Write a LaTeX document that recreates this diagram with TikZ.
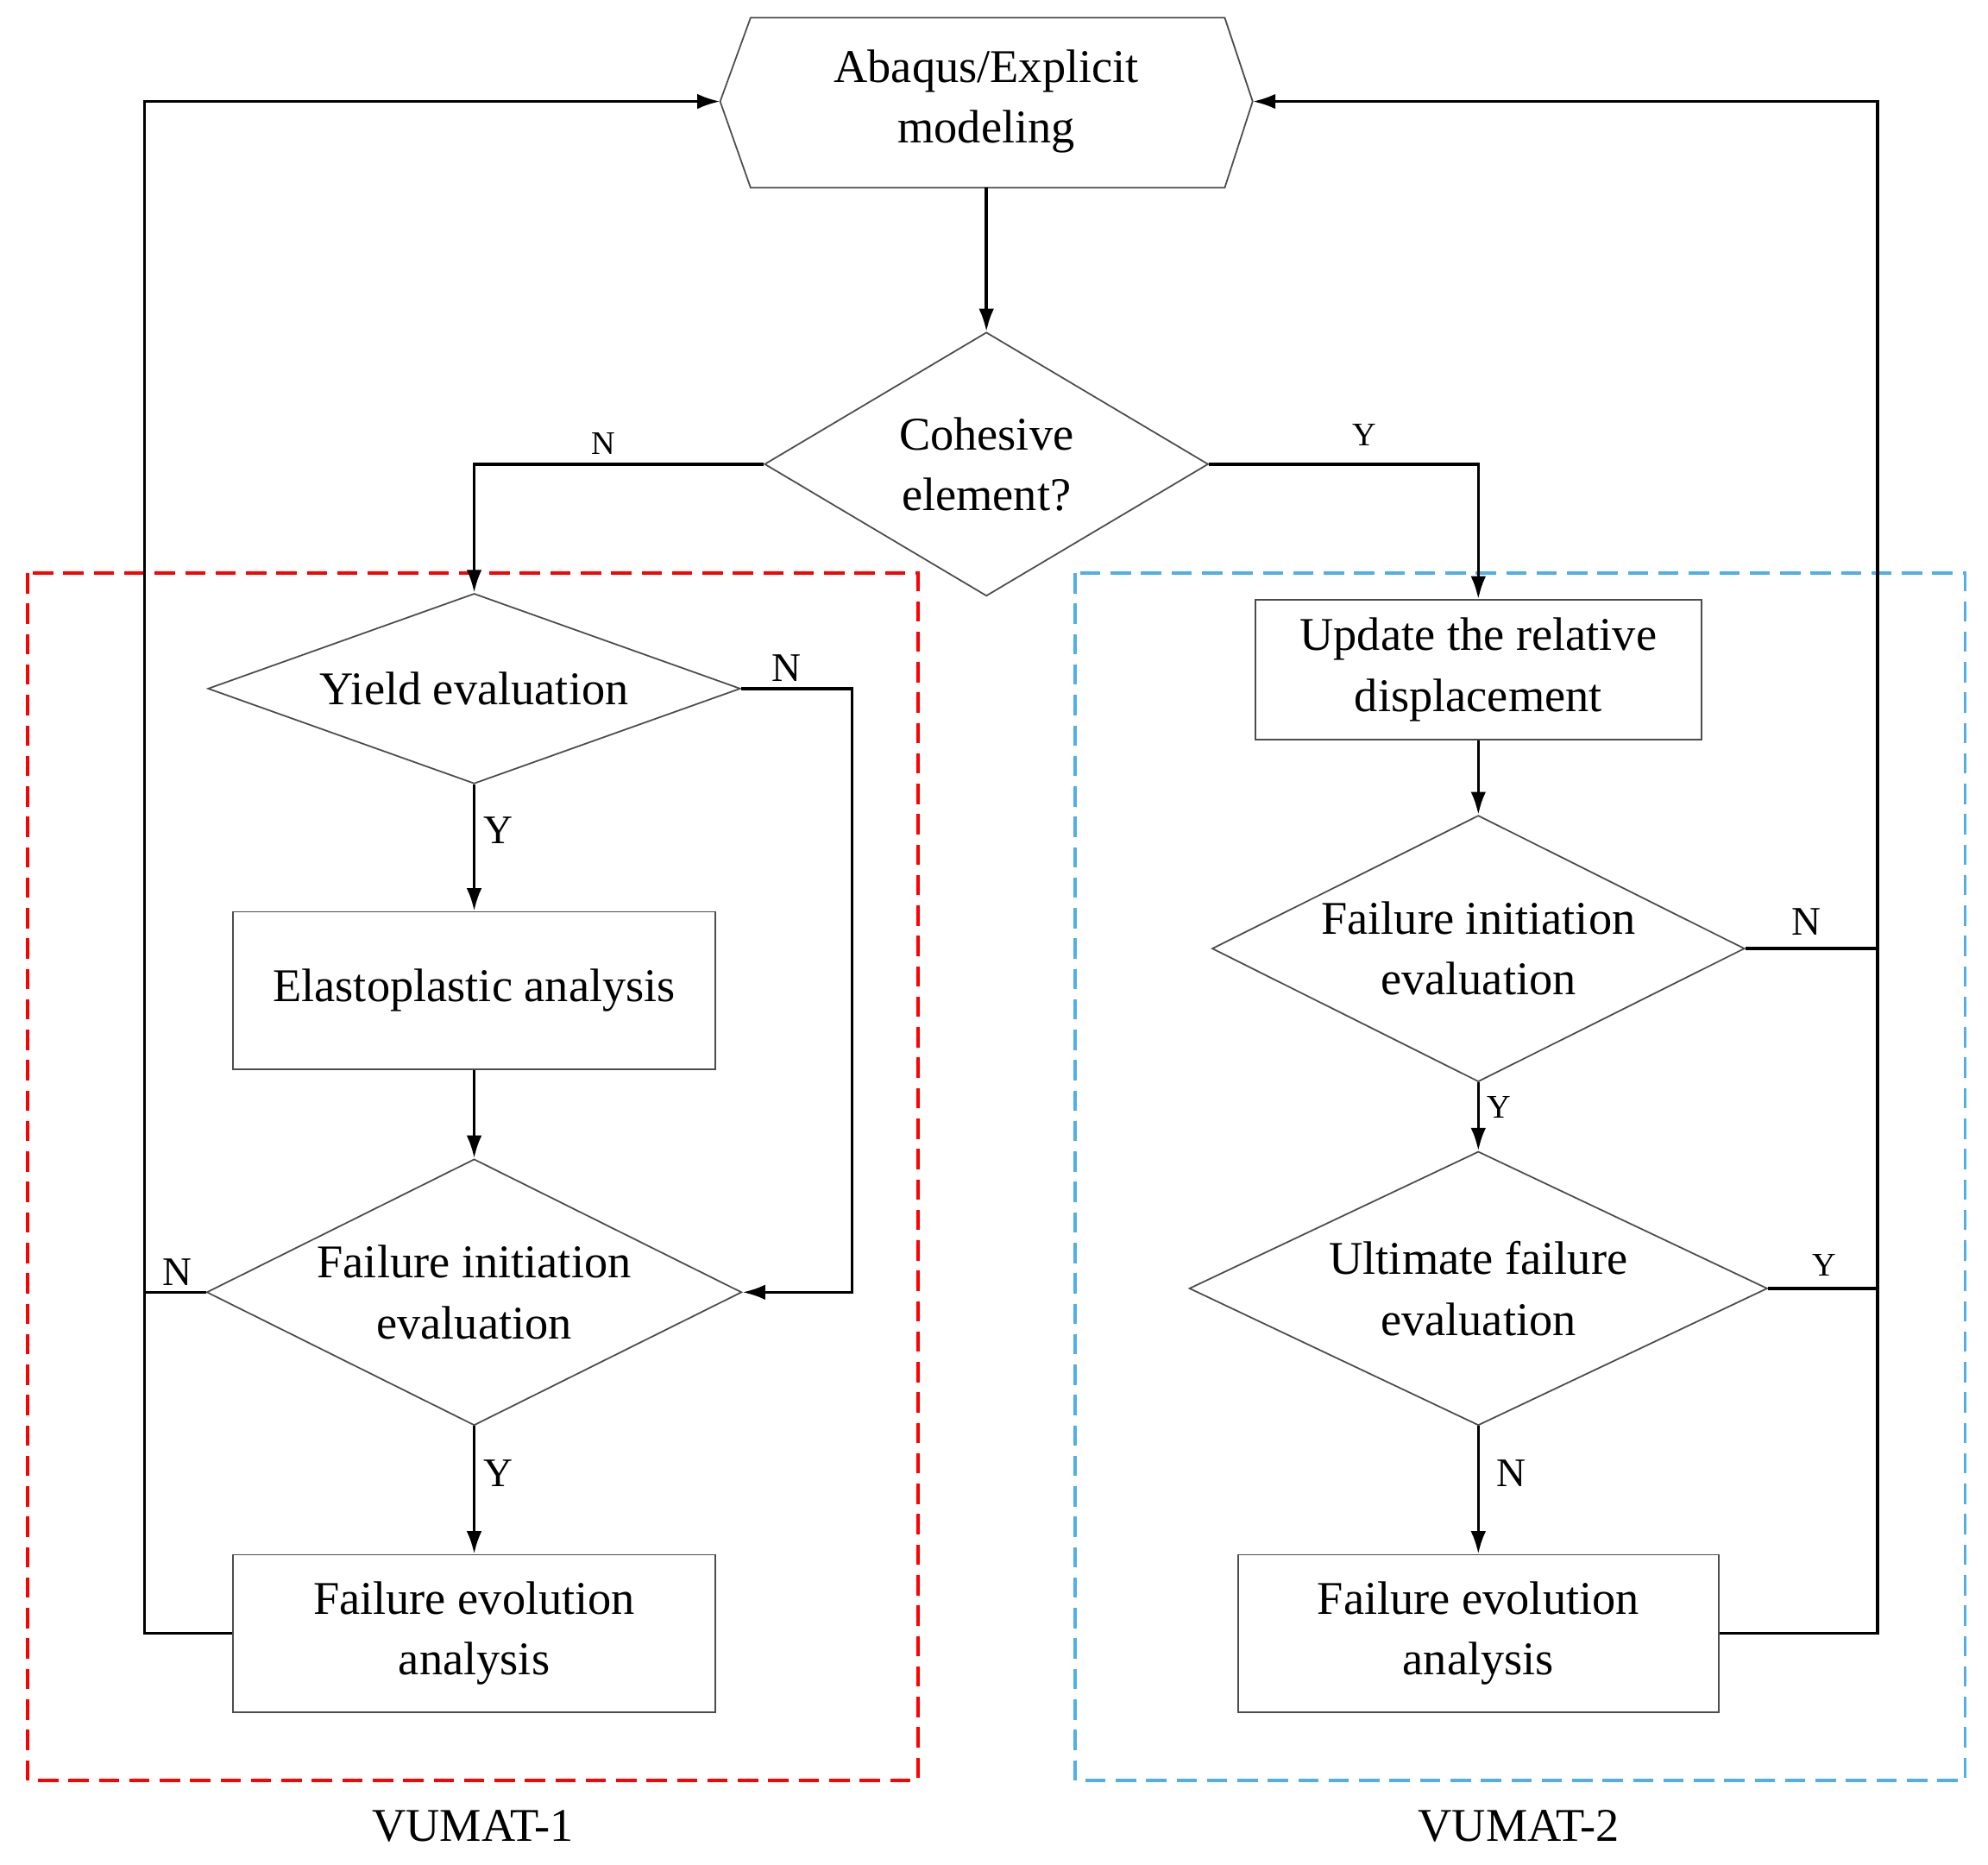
\documentclass[tikz,border=0pt]{standalone}
\usepackage{fontspec}
\setmainfont{Liberation Serif}
\usetikzlibrary{shapes.geometric,arrows.meta}
\begin{document}
\begin{tikzpicture}[x=1pt,y=-1pt,
 shp/.style={draw=black!70,line width=1.2pt},
 box/.style={shp,rectangle,inner sep=0},
 dia/.style={shp,diamond,inner sep=0},
 txt/.style={font=\fontsize{37}{48}\selectfont,align=center},
 lab/.style={font=\fontsize{32}{36}\selectfont},
 slab/.style={font=\fontsize{26}{30}\selectfont},
 con/.style={line width=2.4pt,-{Latex[length=18pt,width=12pt]}},
 ln/.style={line width=2.4pt}]
\useasboundingbox (0,0) rectangle (1568,1470);
% dashed groups
\draw[red,line width=2.5pt,dash pattern=on 16pt off 8pt] (22,452) rectangle (724,1404);
\draw[cyan!80!blue!70,line width=2.5pt,dash pattern=on 16pt off 8pt] (848,452) rectangle (1550,1404);
% hexagon
\draw[shp] (568,80)--(592,14)--(966,14)--(988,80)--(966,148)--(592,148)--cycle;
\node[txt] (hex) at (778,80) {Abaqus/Explicit\\modeling};
\coordinate (hexL) at (568,80); \coordinate (hexR) at (988,80); \coordinate (hexB) at (778,148);
% nodes
\node[dia,minimum width=350pt,minimum height=208pt] (coh) at (778,366) {};
\node[txt] at (coh) {Cohesive\\element?};
\node[dia,minimum width=420pt,minimum height=150pt] (yld) at (374,543) {};
\node[txt] at (yld) {Yield evaluation};
\node[box,minimum width=380pt,minimum height=124pt] (ela) at (374,781) {};
\node[txt] at (ela) {Elastoplastic analysis};
\node[dia,minimum width=422pt,minimum height=210pt] (fi1) at (374,1019) {};
\node[txt] at (fi1) {Failure initiation\\evaluation};
\node[box,minimum width=380pt,minimum height=124pt] (fe1) at (374,1288) {};
\node[txt] at (fe1) {Failure evolution\\analysis};
\node[box,minimum width=352pt,minimum height=110pt] (upd) at (1166,528) {};
\node[txt] at (upd) {Update the relative\\displacement};
\node[dia,minimum width=420pt,minimum height=210pt] (fi2) at (1166,748) {};
\node[txt] at (fi2) {Failure initiation\\evaluation};
\node[dia,minimum width=456pt,minimum height=216pt] (ult) at (1166,1016) {};
\node[txt] at (ult) {Ultimate failure\\evaluation};
\node[box,minimum width=379pt,minimum height=124pt] (fe2) at (1166,1288) {};
\node[txt] at (fe2) {Failure evolution\\analysis};
% connectors
\draw[con] (hexB)--(coh.north);
\draw[con] (coh.west)-|(yld.north);
\draw[con] (coh.east)-|(upd.north);
\draw[con] (yld.south)--(ela.north);
\draw[con] (ela.south)--(fi1.north);
\draw[con] (fi1.south)--(fe1.north);
\draw[con] (yld.east)--(672,543)|-(fi1.east);
\draw[con] (fe1.west)--(114,1288)|-(hexL);
\draw[ln] (fi1.west)--(114,1019);
\draw[con] (upd.south)--(fi2.north);
\draw[con] (fi2.south)--(ult.north);
\draw[con] (ult.south)--(fe2.north);
\draw[con] (fe2.east)--(1481,1288)|-(hexR);
\draw[ln] (fi2.east)--(1481,748);
\draw[ln] (ult.east)--(1481,1016);
% labels
\node[slab] at (476,350) {N};
\node[slab] at (1076,343) {Y};
\node[lab] at (620,527) {N};
\node[lab] at (393,655) {Y};
\node[lab] at (393,1162) {Y};
\node[lab] at (140,1003) {N};
\node[lab] at (1425,727) {N};
\node[slab] at (1182,873) {Y};
\node[slab] at (1439,998) {Y};
\node[lab] at (1192,1162) {N};
\node[txt] at (373,1440) {VUMAT-1};
\node[txt] at (1198,1440) {VUMAT-2};
\end{tikzpicture}
\end{document}
